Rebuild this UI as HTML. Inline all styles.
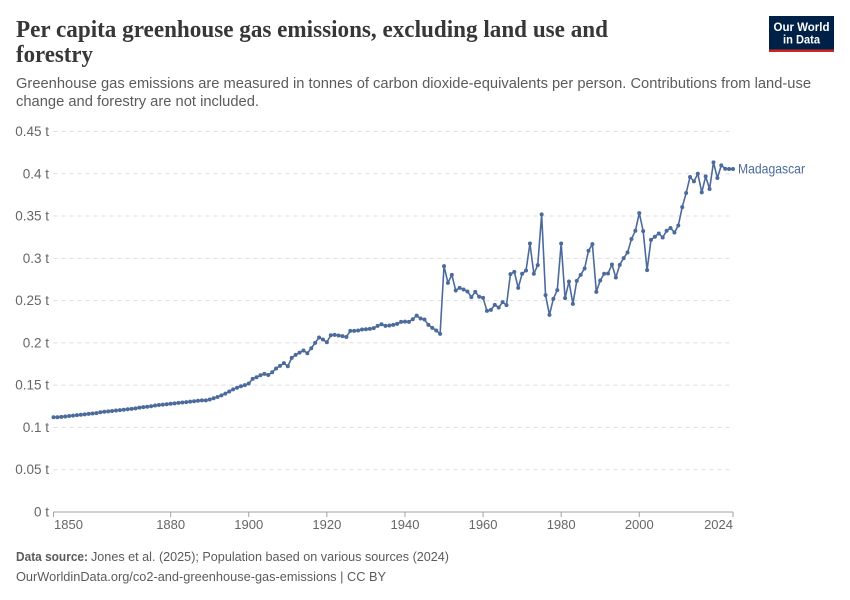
<!DOCTYPE html>
<html>
<head>
<meta charset="utf-8">
<title>Per capita greenhouse gas emissions, excluding land use and forestry</title>
<style>
html,body{margin:0;padding:0;background:#fff;}
svg{display:block;font-family:"Liberation Sans",sans-serif;}
</style>
</head>
<body>
<svg id="chart" width="850" height="600" viewBox="0 0 850 600" xmlns="http://www.w3.org/2000/svg">
  <rect x="0" y="0" width="850" height="600" fill="#fff"/>
  <text x="16" y="37" font-family="'Liberation Serif',serif" font-weight="700" font-size="24" fill="#373737" textLength="592" lengthAdjust="spacingAndGlyphs">Per capita greenhouse gas emissions, excluding land use and</text>
  <text x="16" y="62" font-family="'Liberation Serif',serif" font-weight="700" font-size="24" fill="#373737" textLength="77" lengthAdjust="spacingAndGlyphs">forestry</text>
  <text x="16" y="88" font-size="15" fill="#5b5b5b" textLength="795" lengthAdjust="spacingAndGlyphs">Greenhouse gas emissions are measured in tonnes of carbon dioxide-equivalents per person. Contributions from land-use</text>
  <text x="16" y="106" font-size="15" fill="#5b5b5b" textLength="243" lengthAdjust="spacingAndGlyphs">change and forestry are not included.</text>

  <g>
    <rect x="769" y="16" width="65" height="36" fill="#002147"/>
    <rect x="769" y="49.5" width="65" height="2.5" fill="#ce261e"/>
    <text x="801.5" y="31" font-size="12" font-weight="700" fill="#fff" text-anchor="middle" textLength="56" lengthAdjust="spacingAndGlyphs">Our World</text>
    <text x="801.5" y="43.5" font-size="12" font-weight="700" fill="#fff" text-anchor="middle" textLength="37" lengthAdjust="spacingAndGlyphs">in Data</text>
  </g>

  <g id="gridGroup"></g>
  <g id="yLabelGroup"></g>
  <g id="xAxisGroup"></g>
  <g id="seriesGroup"></g>

  <text x="16" y="561" font-size="13" font-weight="700" fill="#5b5b5b" textLength="72" lengthAdjust="spacingAndGlyphs">Data source:</text>
  <text x="91" y="561" font-size="13" fill="#5b5b5b" textLength="358" lengthAdjust="spacingAndGlyphs">Jones et al. (2025); Population based on various sources (2024)</text>
  <text x="16" y="581" font-size="13" fill="#5b5b5b" textLength="370" lengthAdjust="spacingAndGlyphs">OurWorldinData.org/co2-and-greenhouse-gas-emissions | CC BY</text>
</svg>
<script>
const startYear = 1850;
const values = [
0.112,0.112,0.1125,0.113,0.1135,0.114,0.1145,0.115,0.1155,0.116,
0.1165,0.117,0.118,0.1185,0.119,0.1195,0.12,0.1205,0.121,0.1215,
0.122,0.1225,0.1235,0.124,0.1245,0.125,0.126,0.1265,0.127,0.1275,
0.128,0.1285,0.129,0.1295,0.13,0.1305,0.131,0.1315,0.132,0.132,
0.133,0.1345,0.136,0.138,0.14,0.1425,0.145,0.147,0.1487,0.15,
0.152,0.1575,0.1594,0.1617,0.1633,0.162,0.1653,0.1697,0.1728,0.176,
0.1724,0.1823,0.1858,0.1885,0.191,0.1878,0.1937,0.2,0.2063,0.204,
0.2008,0.209,0.2095,0.2087,0.208,0.207,0.2142,0.2142,0.2146,0.2158,
0.2162,0.2166,0.2174,0.2201,0.2221,0.2201,0.2205,0.2213,0.2225,0.2249,
0.2252,0.2249,0.228,0.2323,0.2288,0.2276,0.2213,0.2178,0.2146,0.2107,
0.2908,0.271,0.2805,0.262,0.2651,0.2631,0.2608,0.2541,0.2604,0.2545,
0.2533,0.2379,0.2391,0.245,0.2418,0.2482,0.2446,0.2813,0.284,0.2651,
0.2817,0.2856,0.3176,0.2817,0.292,0.352,0.2565,0.2332,0.2521,0.2624,
0.3176,0.2529,0.2726,0.2462,0.2734,0.2805,0.288,0.3089,0.3168,0.2604,
0.2738,0.2817,0.2821,0.2927,0.2773,0.2923,0.3003,0.3069,0.3228,0.3326,
0.3535,0.3322,0.286,0.3219,0.3255,0.3294,0.3247,0.3326,0.3358,0.3306,
0.3389,0.3606,0.3772,0.3962,0.391,0.4,0.378,0.3969,0.382,0.4135,
0.395,0.41,0.406,0.4056,0.4056
];
const yTicks = [0,0.05,0.1,0.15,0.2,0.25,0.3,0.35,0.4,0.45];
const yTickLabels = ["0 t","0.05 t","0.1 t","0.15 t","0.2 t","0.25 t","0.3 t","0.35 t","0.4 t","0.45 t"];
const xTicks = [1850,1880,1900,1920,1940,1960,1980,2000,2024];
const seriesName = "Madagascar";

const NS = "http://www.w3.org/2000/svg";
const plotLeft = 53.5, plotRight = 733, plotBottom = 512, plotTop = 131.5;
const lineColor = "#4c6a9c";
const xScale = function (year) { return plotLeft + (year - 1850) * (plotRight - plotLeft) / (2024 - 1850); };
const yScale = function (v) { return plotBottom - v * (plotBottom - plotTop) / 0.45; };

function make(tag, attrs, parent, text) {
  const el = document.createElementNS(NS, tag);
  for (const k in attrs) el.setAttribute(k, attrs[k]);
  if (text !== undefined) el.textContent = text;
  parent.appendChild(el);
  return el;
}

const gridGroup = document.getElementById("gridGroup");
const yLabelGroup = document.getElementById("yLabelGroup");
yTicks.forEach(function (t, i) {
  if (t !== 0) {
    const g = make("line", {x1: plotLeft, x2: plotRight, y1: yScale(t), y2: yScale(t), stroke: "#dddddd", "stroke-width": 1, "stroke-dasharray": "4,4"}, gridGroup);
    
    
  }
  const l = make("text", {x: 49, y: yScale(t) + 4.5, "text-anchor": "end", "font-size": 13.5, fill: "#666666"}, yLabelGroup, yTickLabels[i]);
  
  
});

const xAxisGroup = document.getElementById("xAxisGroup");
const axisLine = make("line", {x1: plotLeft, x2: plotRight, y1: plotBottom, y2: plotBottom, stroke: "#a1a1a1", "stroke-width": 1}, xAxisGroup);


xTicks.forEach(function (yr, i) {
  const x = xScale(yr);
  const tick = make("line", {x1: x, x2: x, y1: plotBottom, y2: plotBottom + 5, stroke: "#a1a1a1", "stroke-width": 1}, xAxisGroup);
  
  
  let anchor = "middle";
  let tx = x;
  if (i === 0) { anchor = "start"; tx = x + 0.5; }
  if (i === xTicks.length - 1) { anchor = "end"; tx = x; }
  const lab = make("text", {x: tx, y: plotBottom + 17, "text-anchor": anchor, "font-size": 13, fill: "#666666"}, xAxisGroup, String(yr));
  
  
});

const seriesGroup = document.getElementById("seriesGroup");
const pts = values.map(function (v, i) { return xScale(startYear + i).toFixed(2) + "," + yScale(v).toFixed(2); }).join(" ");
const seriesLine = make("polyline", {points: pts, fill: "none", stroke: lineColor, "stroke-width": 1.6, "stroke-linejoin": "round"}, seriesGroup);


values.forEach(function (v, i) {
  const c = make("circle", {cx: xScale(startYear + i), cy: yScale(v), r: 2, fill: lineColor}, seriesGroup);
  
  
});
const lastValue = values[values.length - 1];
const seriesLabel = make("text", {x: 738, y: yScale(lastValue) + 4.5, "font-size": 14, fill: lineColor, textLength: 67, lengthAdjust: "spacingAndGlyphs"}, seriesGroup, seriesName);


</script>
</body>
</html>
